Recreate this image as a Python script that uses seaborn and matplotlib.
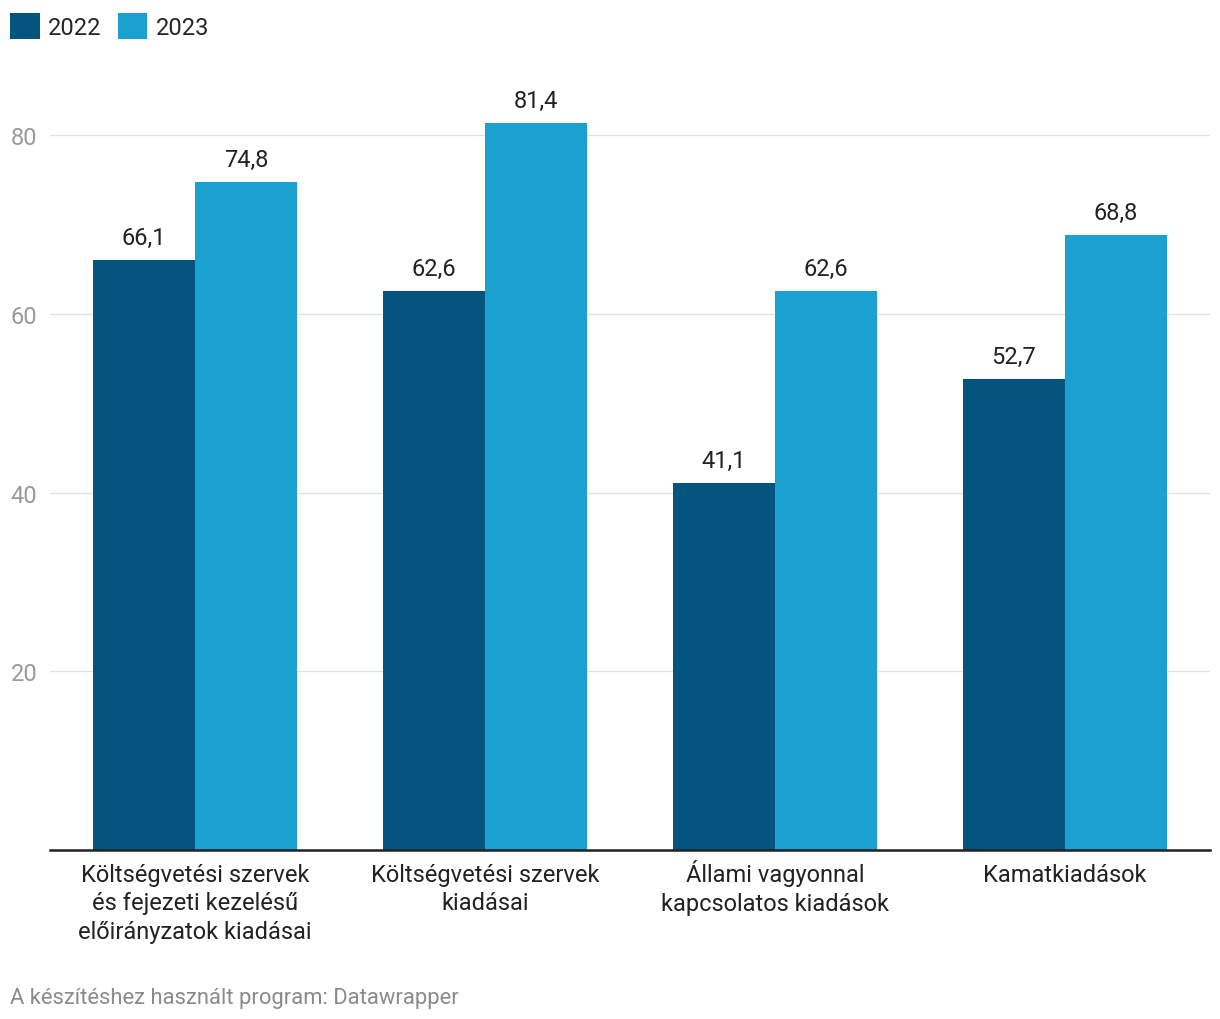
import pandas as pd
import numpy as np
import matplotlib.pyplot as plt
import matplotlib.transforms as mtransforms
import seaborn as sns
from matplotlib.patches import Patch

# ── Data ──────────────────────────────────────────────────────────────────
categories = [
    'Költségvetési szervek\nés fejezeti kezelésű\nelőirányzatok kiadásai',
    'Költségvetési szervek\nkiadásai',
    'Állami vagyonnal\nkapcsolatos kiadások',
    'Kamatkiadások',
]
years = ['2022', '2023']
values_2022 = [66.1, 62.6, 41.1, 52.7]
values_2023 = [74.8, 81.4, 62.6, 68.8]
y_ticks = [20, 40, 60, 80]

colors = {'2022': '#03557d', '2023': '#1ba1cf'}

df = pd.DataFrame({
    'category': categories * 2,
    'year': ['2022'] * 4 + ['2023'] * 4,
    'value': values_2022 + values_2023,
})

sns.set_theme(style='white')
plt.rcParams['font.family'] = ['Roboto', 'DejaVu Sans']

W, H = 1220, 1020
fig = plt.figure(figsize=(W / 100, H / 100), dpi=100)
ax = fig.add_axes([50 / W, 1 - 851 / H, 1160 / W, 761 / H])

sns.barplot(
    data=df, x='category', y='value', hue='year',
    palette=colors, width=0.703, gap=0, saturation=1,
    edgecolor='none', linewidth=0, ax=ax, legend=False,
)

# value labels with decimal comma
for container, vals in zip(ax.containers, [values_2022, values_2023]):
    ax.bar_label(
        container, labels=[f'{v:.1f}'.replace('.', ',') for v in vals],
        padding=8, fontsize=17, color='#222222',
    )

ax.set_xlim(-0.5, 3.5)
ax.set_ylim(0, 85.2)
ax.set_yticks(y_ticks)
ax.set_yticklabels([str(t) for t in y_ticks])
ax.tick_params(axis='y', length=0, pad=9, labelsize=17, labelcolor='#9a9a9a')
ax.tick_params(axis='x', length=0)
ax.set_xticklabels([])
ax.set_xlabel('')
ax.set_ylabel('')

# category labels: first-line baselines aligned (accents don't push them down)
line_px = 28.5
for i, cat in enumerate(categories):
    n = cat.count('\n')
    shift = mtransforms.ScaledTranslation(0, -(31 + n * line_px) / 100, fig.dpi_scale_trans)
    ax.text(i, 0, cat, transform=ax.get_xaxis_transform() + shift,
            ha='center', va='baseline', multialignment='center',
            fontsize=17, color='#222222', linespacing=1.31)

ax.grid(axis='y', color='#e2e2e2', linewidth=1)
ax.set_axisbelow(True)
for side in ['top', 'right', 'left']:
    ax.spines[side].set_visible(False)
ax.spines['bottom'].set_color('#222222')
ax.spines['bottom'].set_linewidth(1.8)

# legend at top left
handles = [Patch(facecolor=colors[y], edgecolor='none', label=y) for y in years]
fig.legend(
    handles=handles, loc='upper left', bbox_to_anchor=(10 / W, 1 - 14 / H),
    ncol=2, frameon=False, fontsize=17, handlelength=1.25, handleheight=1.3,
    handletextpad=0.35, columnspacing=0.7, borderaxespad=0, borderpad=0,
)

fig.text(10 / W, 1 - 999 / H, 'A készítéshez használt program: Datawrapper',
         fontsize=15.8, color='#8a8a8a', ha='left', va='center')

fig.savefig('out.png', dpi=100)
